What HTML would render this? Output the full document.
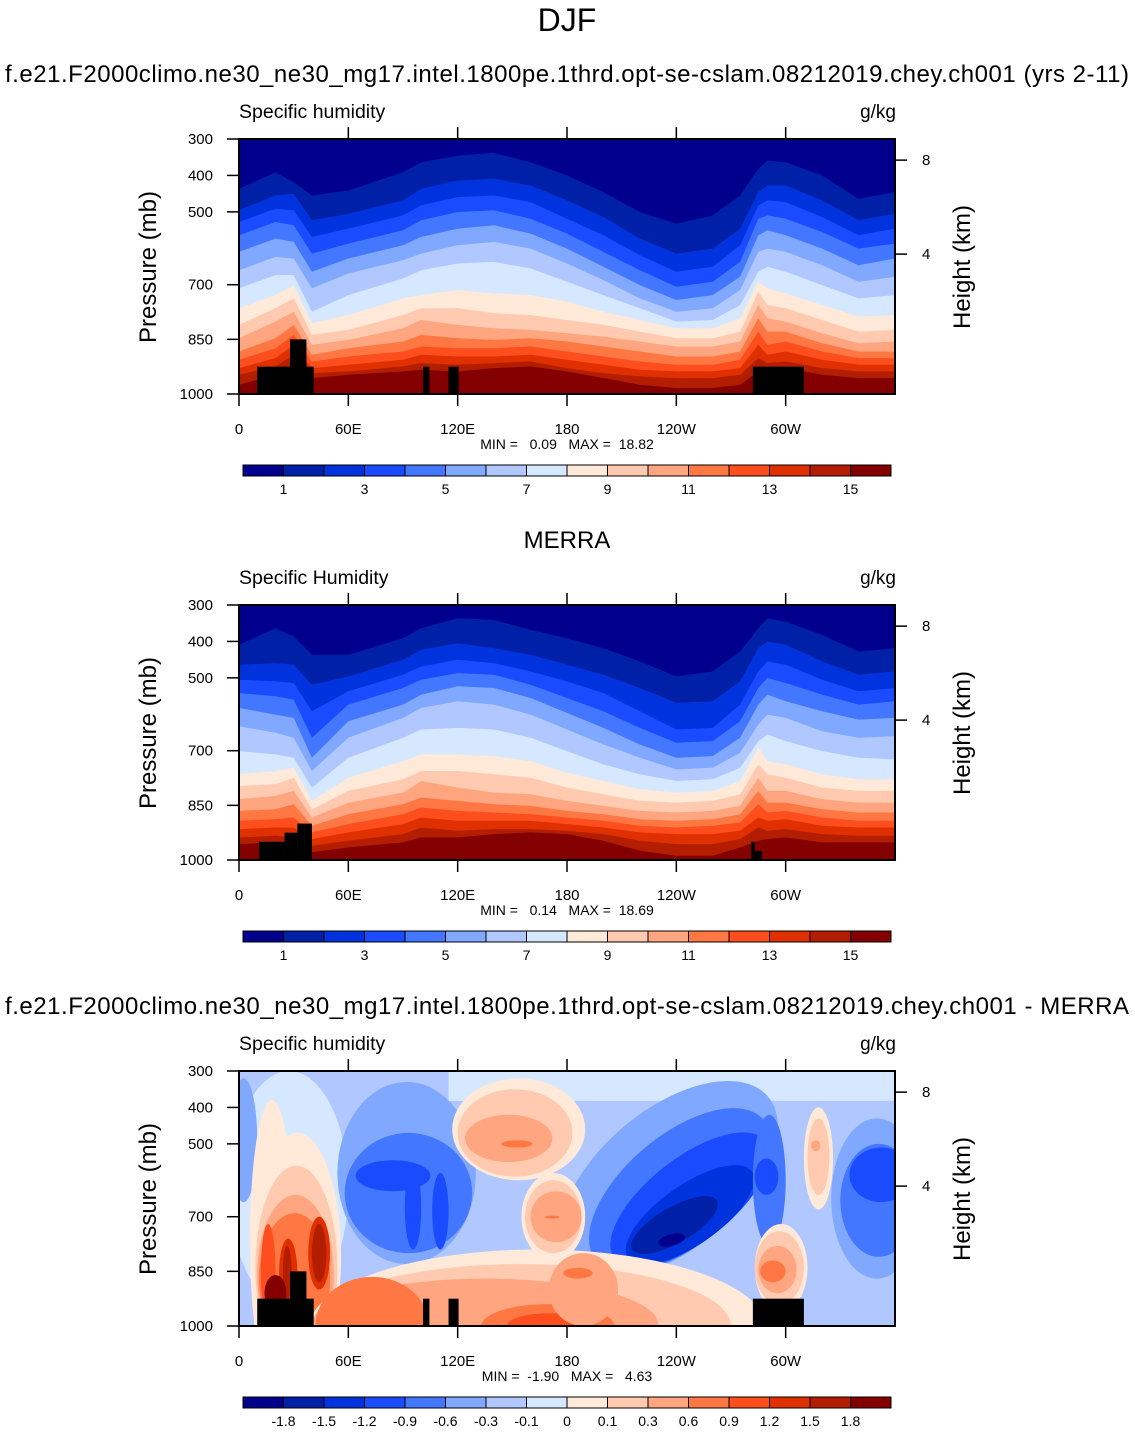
<!DOCTYPE html>
<html><head><meta charset="utf-8">
<style>
html,body{margin:0;padding:0;background:#fff;}
svg{display:block;font-family:"Liberation Sans",Arial,sans-serif;}
</style></head>
<body>
<svg id="fig" width="1135" height="1433" viewBox="0 0 1135 1433" xmlns="http://www.w3.org/2000/svg">
<text x="567" y="31" font-size="32" text-anchor="middle">DJF</text>
</svg>
<script>
// ---------- data ----------
const colors=["#00008C","#0020A8","#0033DD","#1A4BFF","#4477FF","#80A8FF","#B0C8FF","#D6E8FF","#FFE9D8","#FFCAB0","#FFA580","#FF7844","#FF4E1E","#E03000","#B41E00","#840000"];
const qLabels=["1","3","5","7","9","11","13","15"];
const diffLabels=["-1.8","-1.5","-1.2","-0.9","-0.6","-0.3","-0.1","0","0.1","0.3","0.6","0.9","1.2","1.5","1.8"];
const pTicks=[300,400,500,700,850,1000];
const lonTicks=[0,60,120,180,240,300];
const lonTickLabels=["0","60E","120E","180","120W","60W"];
const heightTicks=["8","4"];
const heightTickP=[358,616];
const lons=[0,20,30,40,60,90,100,120,140,160,180,200,220,240,260,275,285,290,300,320,340,360];
// contour depths (units: (p-300)*768/700 mb) for boundaries 1..15, model
const modelContours=[
[150,100,130,170,155,100,70,50,42,70,110,160,220,255,230,170,90,65,70,110,180,160],
[215,170,165,245,225,185,150,125,120,140,185,235,300,345,330,270,160,140,140,185,245,225],
[250,210,215,295,270,230,200,175,170,190,240,290,350,400,385,320,200,185,190,235,290,270],
[290,250,260,345,315,275,245,220,215,240,285,340,395,445,430,370,240,230,240,280,330,315],
[340,300,310,400,360,320,295,270,260,285,330,385,440,485,470,415,290,275,290,330,380,360],
[395,355,360,450,405,365,345,320,310,330,375,425,480,520,510,455,340,330,340,380,430,415],
[450,410,410,520,470,420,395,375,370,390,430,470,510,550,545,500,400,385,400,440,480,470],
[510,470,440,555,530,480,470,455,465,470,490,520,545,570,570,540,430,450,465,500,535,530],
[560,510,480,590,575,530,510,510,525,530,545,560,580,600,600,580,460,500,510,545,580,575],
[600,550,520,620,605,570,545,560,570,575,585,595,610,625,625,610,500,540,550,585,615,610],
[640,600,560,650,630,610,590,600,605,600,610,625,640,655,655,640,540,580,580,615,640,640],
[665,630,590,670,655,640,625,630,630,625,640,655,670,680,680,665,580,620,610,640,660,660],
[690,660,620,690,680,665,650,655,655,650,665,680,695,700,700,690,620,650,640,665,680,680],
[710,685,650,705,700,685,675,680,675,670,690,705,715,720,720,710,660,675,670,690,700,700],
[740,710,680,720,710,700,695,700,690,685,700,720,740,750,750,740,700,700,690,710,720,720]];
const merraContours=[
[120,70,95,150,150,100,70,40,45,75,100,130,170,215,200,140,70,40,50,90,140,130],
[180,175,180,240,215,165,135,115,130,150,180,210,250,295,290,230,130,110,120,170,210,200],
[225,230,235,320,260,210,185,165,175,200,230,265,320,375,370,300,200,170,180,225,260,250],
[265,275,285,400,300,250,225,205,210,240,280,320,370,415,410,350,250,220,235,270,300,290],
[310,330,340,460,350,300,270,245,250,280,325,370,420,460,455,400,300,270,290,320,345,340],
[365,385,400,500,400,340,310,290,300,330,375,420,460,495,490,445,360,330,340,380,400,395],
[440,450,460,550,460,400,375,370,375,400,440,480,510,530,525,490,410,390,410,440,460,465],
[510,500,490,590,520,470,450,450,455,470,505,530,555,565,560,530,430,470,480,510,525,525],
[545,540,520,615,560,525,500,500,510,520,550,570,590,595,590,570,480,510,520,550,560,560],
[585,575,560,640,595,565,530,550,565,570,590,605,620,625,620,605,520,560,560,585,595,595],
[620,615,600,665,630,600,580,590,600,605,620,630,645,650,645,630,560,595,595,615,625,625],
[650,645,640,685,660,630,610,620,625,630,640,650,665,670,665,655,600,625,620,640,650,650],
[675,670,670,705,685,660,640,650,650,650,660,670,685,690,690,680,640,650,645,665,670,670],
[700,695,700,725,710,690,670,680,675,675,680,690,710,720,720,705,670,680,675,690,695,695],
[720,715,720,745,730,715,700,700,690,685,690,710,740,755,755,730,710,705,700,715,715,715]];
// orography (lon start, lon end, top pressure)
const oroLon0=[10,28,101,115,282];
const oroLon1=[41,37,104.5,120.5,310];
const oroTop=[925,850,925,925,925];
const oro2Lon0=[11,25,32,36,281,283];
const oro2Lon1=[25,32,36,40,283,287];
const oro2Top=[950,925,900,900,950,975];
// difference field regions: lon range, pressure range, colour level, shape, tilt
const blobLon0=[115,-5,54,58,64,91,106, 165,182,195,206,212,230, 325,330,335,-5,282,283, 6,8,9,10,11,12,22,38,24,40,14, 38,40,40,42,133,147, 117,155,120,157,124,160,144,168, 170,178, 283,283,285,286, 310,312,314];
const blobLon1=[360,60,130,128,105,100,115, 307,302,300,289,266,245, 375,372,370,10,300,296, 30,56,54,52,50,20,32,50,29,48,26, 290,270,230,104,206,193, 190,190,183,188,172,188,161,176, 208,194, 312,310,306,300, 326,324,319];
const blobP0=[300,300,330,470,545,560,580, 407,476,539,613,674,748, 430,500,510,320,420,540, 380,470,560,640,690,720,760,700,780,720,860, 790,830,870,865,940,965, 320,580,350,600,420,630,490,697, 800,840, 720,740,780,820, 400,430,490];
const blobP1=[382,950,830,800,630,790,790, 791,778,769,777,772,780, 870,810,660,660,780,640, 1150,1150,1120,1080,1050,980,950,900,930,880,960, 1230,1170,1120,1130,1060,1035, 600,820,590,800,550,770,510,705, 1000,870, 960,940,910,880, 680,640,520];
const blobLevel=[7,7,5,4,3,3,3, 5,4,3,2,1,0, 5,4,3,5,4,3, 8,8,9,10,11,12,13,13,14,14,15, 8,9,10,11,11,12, 8,8,9,9,10,10,11,11, 10,11, 8,9,10,11, 8,9,10];
const blobRect=[1,0,0,0,0,0,0, 0,0,0,0,0,0, 0,0,0,0,0,0, 0,0,0,0,0,0,0,0,0,0,0, 0,0,0,0,0,0, 0,0,0,0,0,0,0,0, 0,0, 0,0,0,0, 0,0,0];
const blobTilt=[0,0,0,0,0,0,0, -40,-40,-38,-35,-30,-15, 0,0,0,0,0,0, 0,0,0,0,0,0,0,0,0,0,0, 0,0,0,0,0,0, 0,0,0,0,0,0,0,0, 0,0, 0,0,0,0, 0,0,0];

// ---------- drawing ----------
const NS="http://www.w3.org/2000/svg";
const svg=document.getElementById('fig');
const X0=239,W=656,H=255;
const xS=lon=>X0+lon/360*W;
const yS=(top,p)=>top+(p-300)/700*H;
function el(tag,attrs,parent){const e=document.createElementNS(NS,tag);for(const k in attrs)e.setAttribute(k,attrs[k]);(parent||svg).appendChild(e);return e;}
function txt(s,attrs,parent){const t=el('text',attrs,parent);t.textContent=s;return t;}

function panel(idx,top,title,subtitle,subLen,minmax,labels,kind){
  const g=el('g',{});
  
  
  if(title){const t=txt(title,{x:567,y:top-57,'font-size':24,'text-anchor':'middle'},g);
    if(subLen) t.setAttribute('textLength',subLen);
    
    }
  const lt=txt(subtitle,{x:239,y:top-21,'font-size':19.5},g);
  
  
  const ut=txt('g/kg',{x:896,y:top-21,'font-size':19,'text-anchor':'end'},g);
  
  
  const cid='clip'+idx;
  const cp=el('clipPath',{id:cid},g);el('rect',{x:X0,y:top,width:W,height:H},cp);
  const plot=el('g',{'clip-path':'url(#'+cid+')'},g);
  
  
  const bot=top+H;
  if(kind==='q'){
    const data=idx===1?modelContours:merraContours;
    const bg=el('rect',{x:X0,y:top,width:W,height:H,fill:colors[0]},plot);
    
    for(let k=0;k<data.length;k++){
      let d='M'+X0+','+(bot+2);
      lons.forEach((lon,i)=>{d+=' L'+xS(lon).toFixed(1)+','+yS(top,300+data[k][i]*700/768).toFixed(1);});
      d+=' L'+(X0+W)+','+(bot+2)+' Z';
      const p=el('path',{d:d,fill:colors[k+1]},plot);
      
      
    }
  } else {
    const bg=el('rect',{x:X0,y:top,width:W,height:H,fill:colors[6]},plot);
    
    for(let i=0;i<blobLon0.length;i++){
      const x0=xS(blobLon0[i]),x1=xS(blobLon1[i]),y0=yS(top,blobP0[i]),y1=yS(top,blobP1[i]);
      let e;
      if(blobRect[i]) e=el('rect',{x:x0,y:y0,width:x1-x0,height:y1-y0,fill:colors[blobLevel[i]]},plot);
      else {const cx=(x0+x1)/2,cy=(y0+y1)/2;
        e=el('ellipse',{cx:cx,cy:cy,rx:(x1-x0)/2,ry:(y1-y0)/2,fill:colors[blobLevel[i]],transform:'rotate('+blobTilt[i]+' '+cx+' '+cy+')'},plot);}
      
      
    }
  }
  const L0=idx===2?oro2Lon0:oroLon0,L1=idx===2?oro2Lon1:oroLon1,T=idx===2?oro2Top:oroTop;
  for(let i=0;i<L0.length;i++){
    const r=el('rect',{x:xS(L0[i]),y:yS(top,T[i]),width:xS(L1[i])-xS(L0[i]),height:bot-yS(top,T[i])+2,fill:'#000'},plot);
    
    
  }
  const fr=el('rect',{x:X0,y:top,width:W,height:H,fill:'none',stroke:'#000','stroke-width':2},g);
  
  
  pTicks.forEach(p=>{const y=yS(top,p);
    el('line',{x1:X0-12,x2:X0,y1:y,y2:y,stroke:'#000','stroke-width':1.5},g);
    const t=txt(String(p),{x:213,y:y+5,'font-size':15,'text-anchor':'end'},g);
    
    });
  lonTicks.forEach((lon,i)=>{const x=xS(lon);
    el('line',{x1:x,x2:x,y1:bot,y2:bot+12,stroke:'#000','stroke-width':1.5},g);
    if(lon>0) el('line',{x1:x,x2:x,y1:top-12,y2:top,stroke:'#000','stroke-width':1.5},g);
    const t=txt(lonTickLabels[i],{x:x,y:bot+40,'font-size':15,'text-anchor':'middle'},g);
    
    });
  heightTicks.forEach((h,i)=>{const y=yS(top,heightTickP[i]);
    el('line',{x1:X0+W,x2:X0+W+12,y1:y,y2:y,stroke:'#000','stroke-width':1.5},g);
    const t=txt(h,{x:922,y:y+5,'font-size':15},g);
    
    });
  const ya=txt('Pressure (mb)',{x:0,y:0,'font-size':24,'text-anchor':'middle',transform:'translate(156,'+(top+128)+') rotate(-90)'},g);
  
  
  const ha=txt('Height (km)',{x:0,y:0,'font-size':24,'text-anchor':'middle',transform:'translate(970,'+(top+128)+') rotate(-90)'},g);
  
  
  const mm=txt(minmax,{x:567,y:bot+55,'font-size':14,'text-anchor':'middle'},g);
  
  
  const cb=el('g',{},g);
  
  
  const cy=bot+71,cw=648/16;
  colors.forEach((c,i)=>{const r=el('rect',{x:243+i*cw,y:cy,width:cw,height:11,fill:c,stroke:'#000','stroke-width':1},cb);
    
    });
  labels.forEach((s,i)=>{const k=kind==='q'?2*i+1:i+1;
    const t=txt(s,{x:243+k*cw,y:cy+29,'font-size':14,'text-anchor':'middle'},cb);
    
    });
}
const cas='f.e21.F2000climo.ne30_ne30_mg17.intel.1800pe.1thrd.opt-se-cslam.08212019.chey.ch001';
const sp='\u00a0';
panel(1,139,cas+' (yrs 2-11)','Specific humidity',1124,'MIN ='+sp+sp+sp+'0.09'+sp+sp+sp+'MAX ='+sp+sp+'18.82',qLabels,'q');
panel(2,605,'MERRA','Specific Humidity',0,'MIN ='+sp+sp+sp+'0.14'+sp+sp+sp+'MAX ='+sp+sp+'18.69',qLabels,'q');
panel(3,1071,cas+' - MERRA','Specific humidity',1124,'MIN ='+sp+sp+'-1.90'+sp+sp+sp+'MAX ='+sp+sp+sp+'4.63',diffLabels,'d');
</script>
</body></html>
